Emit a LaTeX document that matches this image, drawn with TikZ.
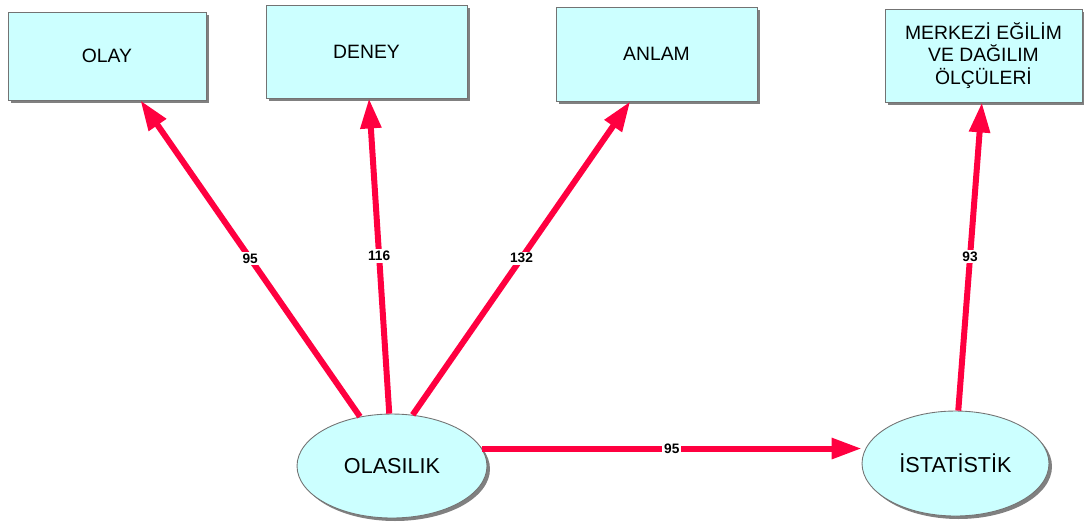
\documentclass[tikz,border=0pt]{standalone}
\usepackage{fontspec}
\setmainfont{Liberation Sans}
\usetikzlibrary{arrows.meta,shapes.geometric,shadows}
\definecolor{boxcyan}{RGB}{204,255,255}
\definecolor{linkred}{RGB}{255,0,64}

\begin{document}
\begin{tikzpicture}[x=0.02cm,y=-0.02cm,
    topic/.style={draw=gray!90!black,line width=0.5pt,fill=boxcyan,align=center,inner sep=0pt,
      font=\fontsize{11}{13}\selectfont,
      drop shadow={shadow xshift=0.06cm,shadow yshift=-0.06cm,fill=gray,opacity=1}},
    concept/.style={topic,ellipse,minimum width=3.8cm,minimum height=2.08cm,
      font=\fontsize{12.3}{14}\selectfont},
    link/.style={-{Triangle[length=0.6cm,width=0.4cm]},draw=linkred,line width=0.12cm},
    weight/.style={fill=white,inner sep=1pt,font=\fontsize{7.8}{9}\selectfont\bfseries}]
        \useasboundingbox (0,0) rectangle (1084,525);
        % upper boxes
        \node[topic,minimum width=3.96cm,minimum height=1.76cm] (olay) at (107,56) {OLAY};
        \node[topic,minimum width=4.02cm,minimum height=1.86cm] (deney) at (366.5,51.5) {DENEY};
        \node[topic,minimum width=4.02cm,minimum height=1.88cm] (anlam) at (656.5,54) {ANLAM};
        \node[topic,minimum width=3.94cm,minimum height=1.86cm] (olcu) at (983.5,55.5) {MERKEZİ EĞİLİM\\VE DAĞILIM\\ÖLÇÜLERİ};
        % lower concepts
        \node[concept] (ola) at (392,466) {OLASILIK};
        \node[concept,minimum width=3.74cm,minimum height=2.1cm] (ist) at (955.5,463.5) {İSTATİSTİK};
        % links
        \draw[link] (ola.123) -- node[weight] {95} (olay.-53);
        \draw[link] (ola.93) -- node[weight] {116} (deney.-87);
        \draw[link] (ola.68) -- node[weight] {132} (anlam.-119);
        \draw[link] (ola.11) -- node[weight] {95} (ola.11 -| ist.west);
        \draw[link] (ist.87) -- node[weight] {93} (olcu.-92);
    \end{tikzpicture}
\end{document}
